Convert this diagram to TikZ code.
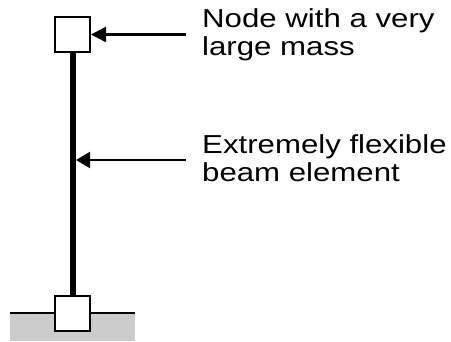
\documentclass[tikz,border=0pt]{standalone}
\usepackage{fontspec}
\setmainfont[FakeStretch=1.2]{Liberation Sans}
\usetikzlibrary{arrows.meta}
\tikzset{
  massbox/.style={draw=black, fill=white, line width=2pt, minimum size=35pt, inner sep=0pt},
  beamline/.style={line width=6pt},
  pointer/.style={line width=2.5pt, -{Triangle[length=15pt,width=15pt]}},
  pointerthin/.style={line width=2pt, -{Triangle[length=14pt,width=16pt]}},
  label/.style={align=left, inner sep=0pt, font=\fontsize{26}{28}\selectfont},
}
\begin{document}
\begin{tikzpicture}[x=1pt,y=-1pt]
\useasboundingbox (0,0) rectangle (451,341);
% ground
\fill[black!20] (10,313) rectangle (135,341);
\draw[line width=2pt] (10,313) -- (135,313);
% nodes
\node[massbox] (top) at (72.5,34.5) {};
\node[massbox] (bot) at (72.5,313.5) {};
\draw[beamline] (top.south) -- (bot.north);
\node[massbox] at (bot) {};
% labels
\node[label, anchor=base west] (lab1) at (202,55) {Node with a very\\large mass};
\node[label, anchor=base west] (lab2) at (202,181) {Extremely flexible\\beam element};
\coordinate (s1) at (186,34.5);
\coordinate (s2) at (186,160);
\coordinate (t2) at (76,160);
\draw[pointer] (s1) -- (top.east);
\draw[pointerthin] (s2) -- (t2);
\end{tikzpicture}
\end{document}
